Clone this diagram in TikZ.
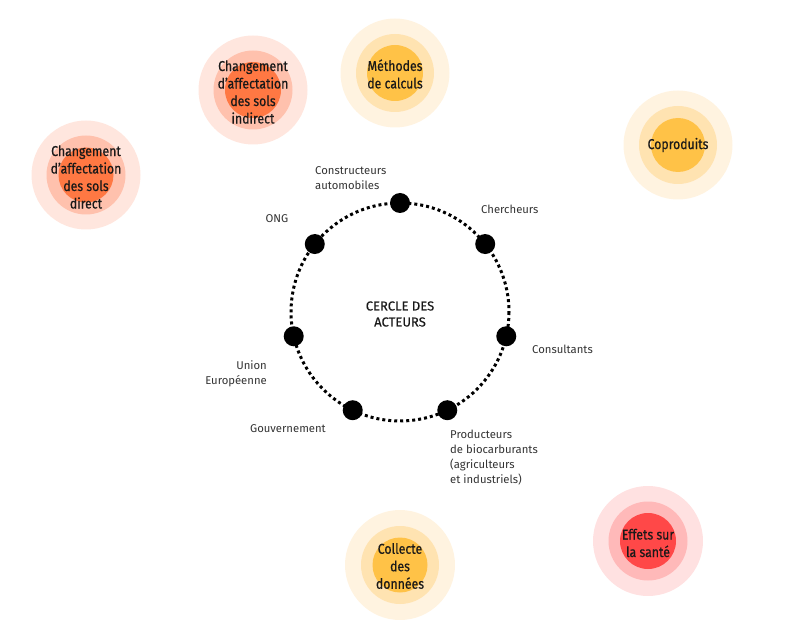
\documentclass[tikz,border=0pt]{standalone}
\usepackage{fontspec}
\usetikzlibrary{calc}
\setmainfont{Fira Sans}
\newfontfamily\themefont{Fira Sans}[FakeStretch=0.86, FakeBold=0.5]
\newfontfamily\titlefont{Fira Sans}[FakeBold=0.4]
\definecolor{org1}{HTML}{FF7843}
\definecolor{org2}{HTML}{FFC1AD}
\definecolor{org3}{HTML}{FFE6DE}
\definecolor{yel1}{HTML}{FFC247}
\definecolor{yel2}{HTML}{FFE3B1}
\definecolor{yel3}{HTML}{FFF3E0}
\definecolor{red1}{HTML}{FF4848}
\definecolor{red2}{HTML}{FFB9B9}
\definecolor{red3}{HTML}{FFE1E1}

\begin{document}
\begin{tikzpicture}[x=1pt,y=-1pt]
\tikzstyle{theme}=[align=center, font=\themefont\fontsize{14.3}{17.5}\selectfont, text=black!90]
\tikzstyle{actor}=[font=\fontsize{11.3}{15}\selectfont, text=black!80, inner sep=0pt]
\tikzstyle{dot}=[circle, fill=black, inner sep=0pt, minimum size=20pt]
\useasboundingbox (0,0) rectangle (787,628);

% themes around the circle
\fill[org3] (253,90) circle (54.5);
\fill[org2] (253,90) circle (39.5);
\fill[org1] (253,90) circle (28);
\node[theme] (casi) at (253,92) {Changement\\d’affectation\\des sols\\indirect};

\fill[yel3] (395,73) circle (54.5);
\fill[yel2] (395,73) circle (39);
\fill[yel1] (395,73) circle (28);
\node[theme] (methodes) at (395,74) {Méthodes\\de calculs};

\fill[org3] (86,175) circle (54.5);
\fill[org2] (86,175) circle (39.5);
\fill[org1] (86,175) circle (27.5);
\node[theme] (casd) at (86,177) {Changement\\d’affectation\\des sols\\direct};

\fill[yel3] (678,145) circle (54.5);
\fill[yel2] (678,145) circle (39);
\fill[yel1] (678,145) circle (27);
\node[theme] (coproduits) at (678,145) {Coproduits};

\fill[yel3] (400,565) circle (55);
\fill[yel2] (400,565) circle (39);
\fill[yel1] (400,565) circle (27.5);
\node[theme] (collecte) at (400,566) {Collecte\\des\\données};

\fill[red3] (648,541) circle (55);
\fill[red2] (648,541) circle (39.5);
\fill[red1] (648,541) circle (28);
\node[theme] (sante) at (648,543) {Effets sur\\la santé};

% circle of actors
\coordinate (c) at (400,312);
\draw[line width=3pt, dash pattern=on 3pt off 3pt] (c) circle (109);
\node[align=center, font=\titlefont\fontsize{13}{16}\selectfont, text=black!90] (cercle) at (400,314) {CERCLE DES\\ACTEURS};

\foreach \name/\a in {constr/90, ong/141.43, ue/192.86, gouv/244.29, prod/295.71, consult/347.14, cherch/38.57}
  \node[dot] (\name) at ($(c)+(-\a:109)$) {};

% actor labels
\node[actor, anchor=west, align=left] (lconstr) at (315,178) {Constructeurs\\automobiles};
\node[actor] (long) at (277,219) {ONG};
\node[actor, anchor=west] (lcherch) at (481,209) {Chercheurs};
\node[actor, anchor=west] (lconsult) at (532,349) {Consultants};
\node[actor, anchor=east, align=right] (lue) at (267,374) {Union\\Européenne};
\node[actor, anchor=east] (lgouv) at (326,429) {Gouvernement};
\node[actor, anchor=west, align=left] (lprod) at (450,458) {Producteurs\\de biocarburants\\(agriculteurs\\et industriels)};
\end{tikzpicture}
\end{document}
